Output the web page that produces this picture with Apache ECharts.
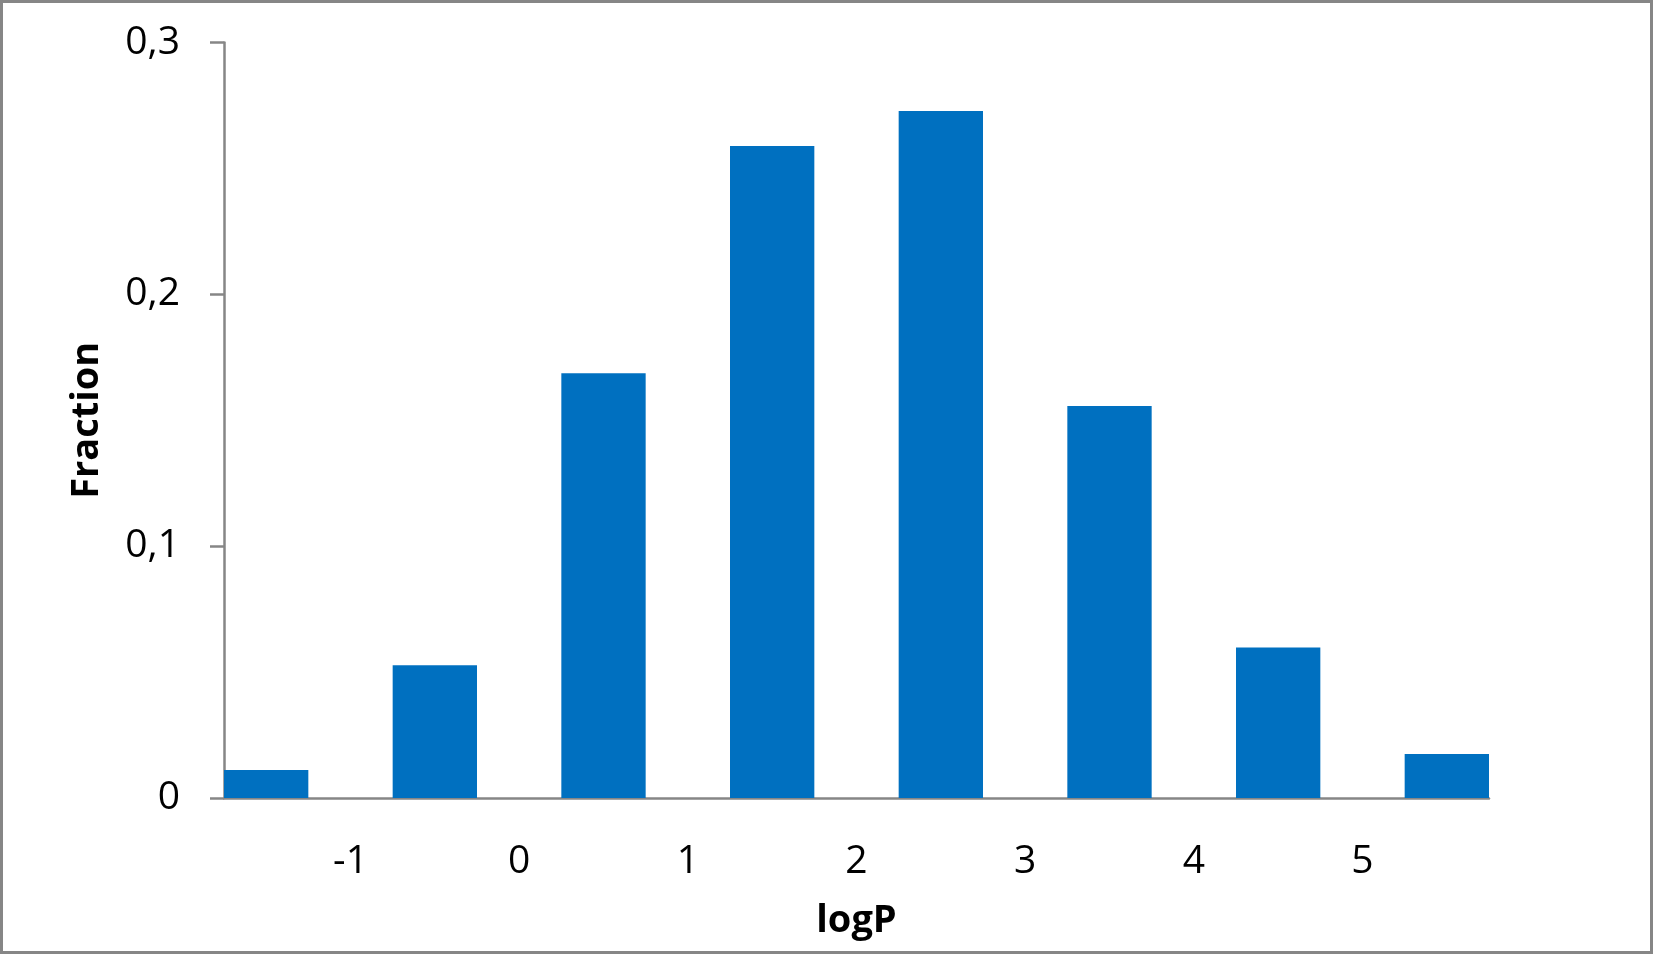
<!DOCTYPE html>
<html>
<head>
<meta charset="utf-8">
<script src="https://cdn.jsdelivr.net/npm/echarts@6/dist/echarts.min.js"></script>
<style>
  html, body { margin: 0; padding: 0; background: #fff; }
  #chart {
    width: 1653px; height: 954px;
    box-sizing: border-box;
    border: 3px solid #868686;
  }
</style>
</head>
<body>
<div id="chart"></div>
<script>
// logP bins (centres) and fraction of compounds in each bin
const binCenters = [-1.5, -0.5, 0.5, 1.5, 2.5, 3.5, 4.5, 5.5]
const fractions = [0.0111, 0.0527, 0.1687, 0.2589, 0.2728, 0.1557, 0.0598, 0.0175]
const xTickValues = [-1, 0, 1, 2, 3, 4, 5]

const AXIS_GREY = '#868686'
const BAR_BLUE = '#0070C0'
const FONT = '"Open Sans", "Liberation Sans", sans-serif'

const chart = echarts.init(document.getElementById('chart'))

const option = {
  backgroundColor: '#fff',
  animation: false,
  grid: {
    left: 221,
    right: 161,
    top: 39.5,
    bottom: 153,
    containLabel: false
  },
  xAxis: {
    type: 'value',
    min: -1.75,
    max: 5.75,
    name: 'logP',
    nameLocation: 'middle',
    nameGap: 104,
    nameTextStyle: { color: '#000', fontSize: 38, fontWeight: 'bold', fontFamily: FONT },
    axisLine: { show: true, onZero: false, lineStyle: { color: AXIS_GREY, width: 2.5 } },
    axisTick: { show: false },
    splitLine: { show: false },
    axisLabel: {
      customValues: xTickValues,
      color: '#000',
      fontSize: 39,
      fontFamily: FONT,
      margin: 44
    }
  },
  yAxis: {
    type: 'value',
    min: 0,
    max: 0.3,
    interval: 0.1,
    name: 'Fraction',
    nameLocation: 'middle',
    nameGap: 118,
    nameRotate: 90,
    nameTextStyle: { color: '#000', fontSize: 38, fontWeight: 'bold', fontFamily: FONT },
    axisLine: { show: true, onZero: false, lineStyle: { color: AXIS_GREY, width: 2.5 } },
    axisTick: { show: true, length: 14, lineStyle: { color: AXIS_GREY, width: 2.5 } },
    splitLine: { show: false },
    axisLabel: {
      color: '#000',
      fontSize: 39,
      fontFamily: FONT,
      margin: 44,
      formatter: (v) => String(+v.toFixed(2)).replace('.', ',')
    }
  },
  series: [{
    type: 'bar',
    data: binCenters.map((x, i) => [x, fractions[i]]),
    barWidth: '50%',
    itemStyle: { color: BAR_BLUE }
  }]
}

chart.setOption(option)
</script>
</body>
</html>
